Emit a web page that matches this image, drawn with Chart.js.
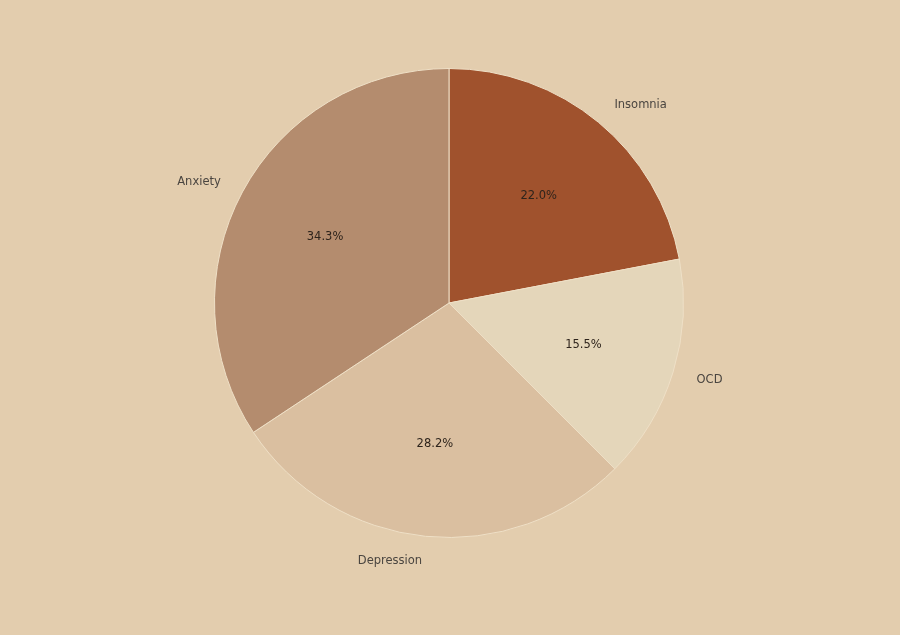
<!DOCTYPE html>
<html>
<head>
<meta charset="utf-8">
<script src="https://cdn.jsdelivr.net/npm/chart.js@4/dist/chart.umd.min.js"></script>
<style>
    html, body { margin: 0; padding: 0; background: #E3CDAE; }
    #wrap { width: 900px; height: 635px; position: relative; }
</style>
</head>
<body>
<div id="wrap"><canvas id="chart"></canvas></div>
<script>
// Data
const categories = ['Insomnia', 'OCD', 'Depression', 'Anxiety'];
const shares = [22.0, 15.5, 28.2, 34.3];
const sliceColors = ['#A0522D', '#E4D6BA', '#DABFA0', '#B48C6E'];

// Draws outside labels (at 1.1 r) and percentages (at 0.6 r), matplotlib-style
const pieLabels = {
    id: 'pieLabels',
    afterDatasetsDraw(chart) {
        const ctx = chart.ctx;
        const meta = chart.getDatasetMeta(0);
        const total = shares.reduce((a, b) => a + b, 0);
        ctx.save();
        ctx.font = '11.5px "DejaVu Sans", sans-serif';
        ctx.textBaseline = 'middle';
        meta.data.forEach((arc, i) => {
            const { x, y, startAngle, endAngle, outerRadius } = arc.getProps(['x', 'y', 'startAngle', 'endAngle', 'outerRadius'], true);
            const mid = (startAngle + endAngle) / 2;
            const cx = Math.cos(mid), cy = Math.sin(mid);

            // percentage
            ctx.fillStyle = '#2e241c';
            ctx.textAlign = 'center';
            const pct = (shares[i] / total * 100).toFixed(1) + '%';
            ctx.fillText(pct, x + cx * outerRadius * 0.6, y + cy * outerRadius * 0.6 + 1);

            // category label
            ctx.fillStyle = '#4a4540';
            ctx.textAlign = cx >= 0 ? 'left' : 'right';
            ctx.fillText(categories[i], x + cx * outerRadius * 1.1 + (cx >= 0 ? 1 : -1), y + cy * outerRadius * 1.1 + 1);
        });
        ctx.restore();
    }
};

new Chart(document.getElementById('chart'), {
    type: 'pie',
    data: {
        labels: categories,
        datasets: [{
            data: shares,
            backgroundColor: sliceColors,
            borderColor: '#EEDFC6',
            borderWidth: 1
        }]
    },
    options: {
        responsive: true,
        maintainAspectRatio: false,
        animation: false,
        layout: { padding: { top: 68, bottom: 97, left: 0, right: 2 } },
        plugins: {
            legend: { display: false },
            tooltip: { enabled: false }
        }
    },
    plugins: [pieLabels]
});
</script>
</body>
</html>
